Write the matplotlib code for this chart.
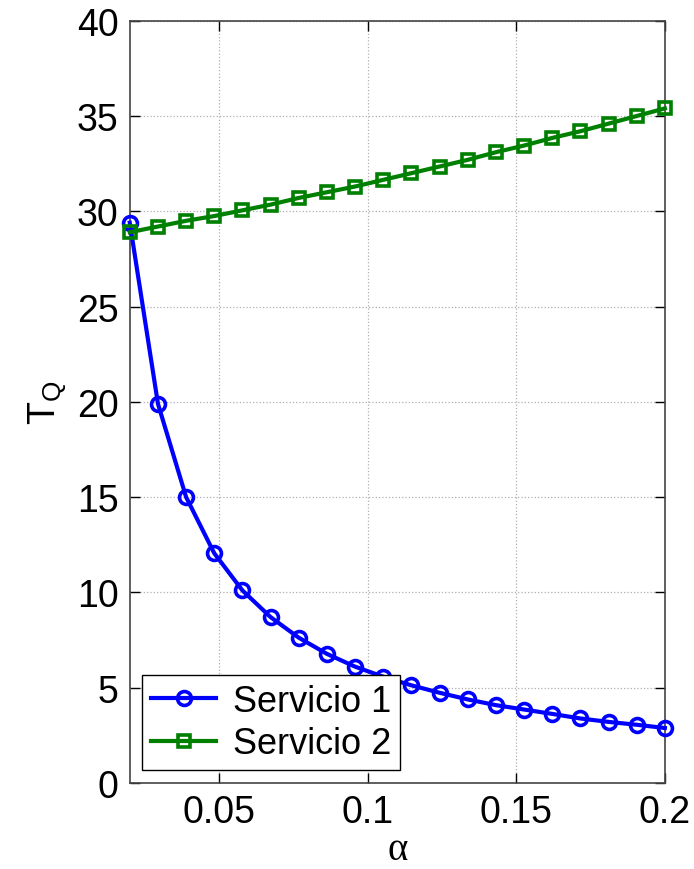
import numpy as np
import matplotlib
matplotlib.use("Agg")
import matplotlib.pyplot as plt

plt.rcParams["font.family"] = ["Liberation Sans", "DejaVu Sans"]
plt.rcParams["mathtext.fontset"] = "custom"
plt.rcParams["mathtext.rm"] = "Liberation Sans"
plt.rcParams["mathtext.it"] = "Liberation Sans"
plt.rcParams["mathtext.default"] = "regular"

alpha = np.linspace(0.02, 0.2, 20)

servicio1 = [29.4, 19.9, 15.0, 12.05, 10.1, 8.7, 7.62, 6.77, 6.1, 5.57,
             5.12, 4.73, 4.38, 4.08, 3.85, 3.62, 3.38, 3.2, 3.05, 2.88]
servicio2 = [28.9, 29.2, 29.5, 29.75, 30.05, 30.35, 30.7, 31.0, 31.3, 31.65,
             32.0, 32.35, 32.7, 33.1, 33.45, 33.85, 34.2, 34.6, 35.0, 35.4]

fig = plt.figure(figsize=(6.94, 8.70), dpi=100)
ax = fig.add_axes([0.187, 0.099, 0.771, 0.876])

ax.plot(alpha, servicio1, "-o", color=(0, 0, 1), lw=3, ms=10,
        mfc="none", mew=2.6, label="Servicio 1", clip_on=False, zorder=3)
ax.plot(alpha, servicio2, "-s", color=(0, 0.5, 0), lw=3, ms=8,
        mfc="none", mew=2.6, label="Servicio 2", clip_on=False, zorder=3)

ax.set_xlim(0.02, 0.2)
ax.set_ylim(0, 40)
ax.set_xticks([0.05, 0.1, 0.15, 0.2])
ax.set_xticklabels(["0.05", "0.1", "0.15", "0.2"])
ax.set_yticks(range(0, 41, 5))

ax.grid(True, linestyle=":", color="#b0b0b0", linewidth=0.9)
ax.tick_params(direction="in", length=7, width=1, labelsize=27,
               top=True, right=True, pad=8)
for s in ax.spines.values():
    s.set_color("#444444")
    s.set_linewidth(1.2)

ax.set_xlabel("α", family=["Liberation Serif", "DejaVu Serif"], fontsize=28)
ax.xaxis.set_label_coords(0.5, -0.063)
ax.set_ylabel("$T_Q$", fontsize=27, labelpad=6)

leg = ax.legend(loc="lower left", fontsize=26, frameon=True, fancybox=False,
                edgecolor="black", framealpha=1, handlelength=1.8,
                borderpad=0.25, labelspacing=0.2, handletextpad=0.45,
                borderaxespad=0.35)
leg.get_frame().set_linewidth(1.0)

fig.savefig("out.png", dpi=100)
